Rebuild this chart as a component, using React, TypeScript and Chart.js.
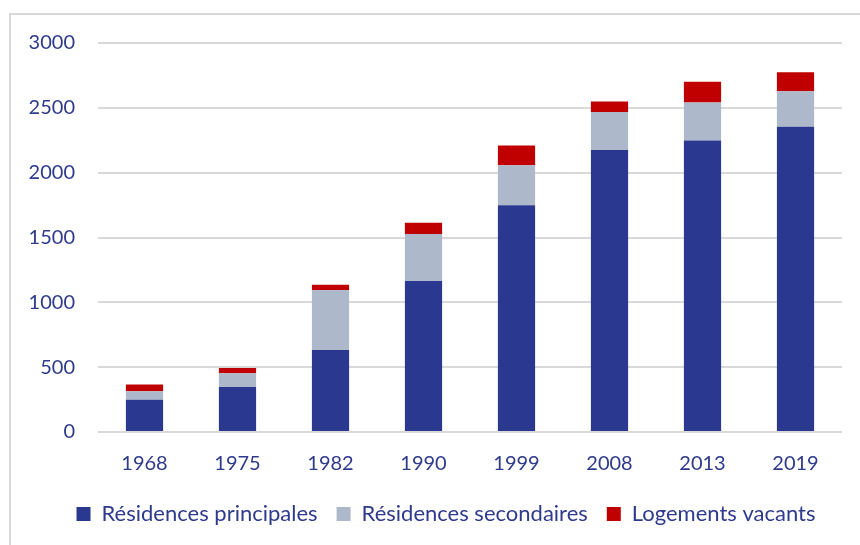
import React, { useEffect, useRef } from "react";
import { Chart, registerables } from "chart.js";

Chart.register(...registerables);

const years = ["1968", "1975", "1982", "1990", "1999", "2008", "2013", "2019"];
const principales = [248, 348, 632, 1165, 1748, 2174, 2248, 2354];
const secondaires = [67, 106, 462, 362, 309, 293, 294, 273];
const vacants = [52, 39, 41, 87, 153, 81, 160, 147];
const yTicks = [0, 500, 1000, 1500, 2000, 2500, 3000];

const TEXT = "#2E3A8C";
const FONT = "Lato";

const shiftLegend = {
  id: "shiftLegend",
  afterLayout(chart: any) {
    const l = chart.legend;
    if (l) {
      l.left += 15;
      l.right += 15;
    }
  },
};

export default function App() {
  const ref = useRef<HTMLCanvasElement | null>(null);
  useEffect(() => {
    if (!ref.current) return;
    const chart = new Chart(ref.current, {
      type: "bar",
      data: {
        labels: years,
        datasets: [
          { label: "Résidences principales", data: principales, backgroundColor: "#2B388F" },
          { label: "Résidences secondaires", data: secondaires, backgroundColor: "#ADB9CA" },
          { label: "Logements vacants", data: vacants, backgroundColor: "#C00000" },
        ],
      },
      plugins: [shiftLegend],
      options: {
        animation: false,
        responsive: false,
        maintainAspectRatio: false,
        layout: { padding: { left: 20, right: 18, top: 43, bottom: 10 } },
        datasets: { bar: { barPercentage: 0.4, categoryPercentage: 1 } },
        plugins: {
          tooltip: { enabled: false },
          legend: {
            position: "bottom",
            labels: {
              boxWidth: 14,
              boxHeight: 14,
              padding: 19,
              color: TEXT,
              font: { family: FONT, size: 22 },
            },
          },
        },
        scales: {
          x: {
            stacked: true,
            grid: { display: false, drawTicks: false },
            border: { display: false },
            ticks: { color: TEXT, font: { family: FONT, size: 20 }, padding: 20 },
            afterFit: (s: any) => { s.height = 52; },
          },
          y: {
            stacked: true,
            min: 0,
            max: 3000,
            afterBuildTicks: (s: any) => { s.ticks = yTicks.map((v) => ({ value: v })); },
            grid: { color: "#D9D9D9", lineWidth: 2, drawTicks: false },
            border: { display: false },
            ticks: {
              color: TEXT,
              font: { family: FONT, size: 20 },
              padding: 23,
              callback: (v: any) => String(v),
            },
            afterFit: (s: any) => { s.width = 78; },
          },
        },
      },
    });
    return () => chart.destroy();
  }, []);
  return (
    <div style={{ position: "fixed", left: 0, top: 0, width: 860, height: 545, background: "#fff" }}>
      <div style={{ position: "absolute", left: 9, top: 13, right: 0, bottom: 0, borderLeft: "2px solid #D9D9D9", borderTop: "2px solid #D9D9D9" }} />
      <canvas ref={ref} width={860} height={545} style={{ position: "absolute", left: 0, top: 0 }} />
    </div>
  );
}
